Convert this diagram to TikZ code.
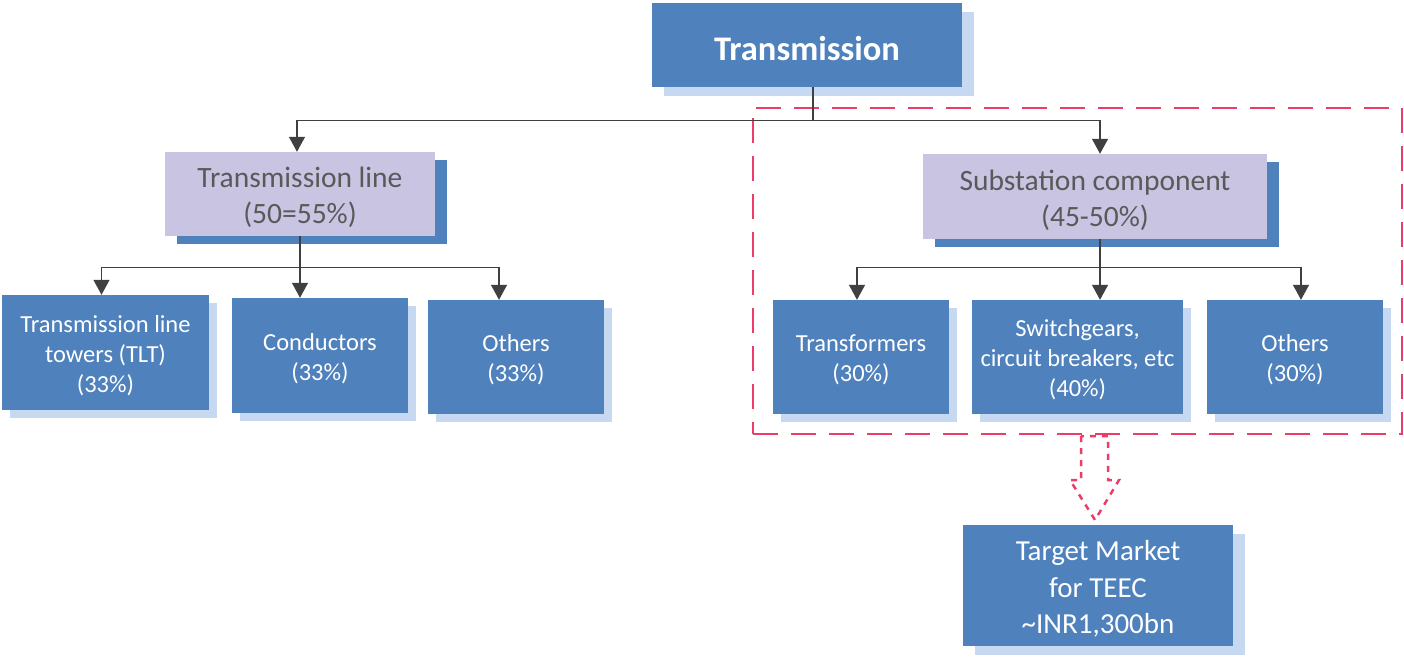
\documentclass[tikz,border=0pt]{standalone}
\usepackage{fontspec}
\setmainfont{Carlito}
\usetikzlibrary{arrows.meta,shadows}
\definecolor{boxblue}{HTML}{4F81BD}
\definecolor{paleblue}{HTML}{C6D9F1}
\definecolor{lilac}{HTML}{C8C4E2}
\definecolor{textgray}{HTML}{595959}
\definecolor{linegray}{HTML}{404040}
\definecolor{framered}{HTML}{EE3B68}
\newcommand\boxstrut{\rule{0pt}{0.93em}}

\begin{document}
\begin{tikzpicture}
[x=1pt,y=-1pt,
topbox/.style={rectangle,fill=boxblue,text=white,align=center,inner sep=0pt,
  general shadow={shadow xshift=12pt,shadow yshift=-9pt,fill=paleblue}},
catbox/.style={rectangle,fill=lilac,text=textgray,align=center,inner sep=0pt,
  font=\fontsize{29.5}{36}\selectfont,
  general shadow={shadow xshift=12pt,shadow yshift=-8pt,fill=boxblue}},
leafbox/.style={rectangle,fill=boxblue,text=white,align=center,inner sep=0pt,
  font=\fontsize{24.5}{30}\selectfont,minimum width=176,minimum height=114,
  general shadow={shadow xshift=8pt,shadow yshift=-8pt,fill=paleblue}},
arr/.style={draw=linegray,line width=1.3pt,-{Triangle[width=16pt,length=15pt]}},
dashframe/.style={draw=framered,line width=2.8pt,dash pattern=on 25pt off 13pt},
hollowarrow/.style={draw=framered,line width=2.5pt,dash pattern=on 6pt off 6pt}]
\useasboundingbox (0,0) rectangle (1404,656);
% dashed frame round the substation part
\node[dashframe,minimum width=649,minimum height=326,inner sep=0pt] (subst) at (1077.5,271) {};
\draw[hollowarrow] (1081,436) -- (1081,480) -- (1070,480) -- (1095,520)
  -- (1119,480) -- (1108,480) -- (1108,436) -- cycle;
% boxes
\node[topbox,minimum width=310,minimum height=84,font=\bfseries\fontsize{34.5}{40}\selectfont] (title) at (807,45) {\boxstrut Transmission};
\node[catbox,minimum width=270,minimum height=84] (tl) at (300,194) {\boxstrut Transmission line\\(50=55\%)};
\node[catbox,minimum width=344,minimum height=85] (sc) at (1095,196.5) {\boxstrut Substation component\\(45-50\%)};
\node[leafbox,minimum width=207,minimum height=115] (tlt) at (105.5,352.5) {\boxstrut Transmission line\\towers (TLT)\\(33\%)};
\node[leafbox,minimum height=115] (cond) at (320,355.5) {\boxstrut Conductors\\(33\%)};
\node[leafbox] (oth1) at (516,357) {\boxstrut Others\\(33\%)};
\node[leafbox] (trf) at (861,357) {\boxstrut Transformers\\(30\%)};
\node[leafbox,minimum width=211] (sw) at (1077.5,357) {\boxstrut Switchgears,\\circuit breakers, etc\\(40\%)};
\node[leafbox] (oth2) at (1295,357) {\boxstrut Others\\(30\%)};
\node[topbox,minimum width=270,minimum height=121,font=\fontsize{29}{36.5}\selectfont] (tgt) at (1098,585.5) {\boxstrut Target Market\\for TEEC\\\textasciitilde INR1,300bn};
% connectors
\draw[arr] ([xshift=6]title.south) -- ++(0,33) -| ([xshift=-3]tl.north);
\draw[arr] ([xshift=6]title.south) -- ++(0,33) -| ([xshift=5]sc.north);
\draw[arr] (tl.south) -- ++(0,31) -| ([xshift=-4]tlt.north);
\draw[arr] (tl.south) -- (tl.south |- cond.north);
\draw[arr] (tl.south) -- ++(0,31) -| ([xshift=-17]oth1.north);
\draw[arr] ([xshift=5]sc.south) -- ++(0,28) -| ([xshift=-4]trf.north);
\draw[arr] ([xshift=5]sc.south) -- ([xshift=22.5]sw.north);
\draw[arr] ([xshift=5]sc.south) -- ++(0,28) -| ([xshift=6]oth2.north);
\end{tikzpicture}
\end{document}
